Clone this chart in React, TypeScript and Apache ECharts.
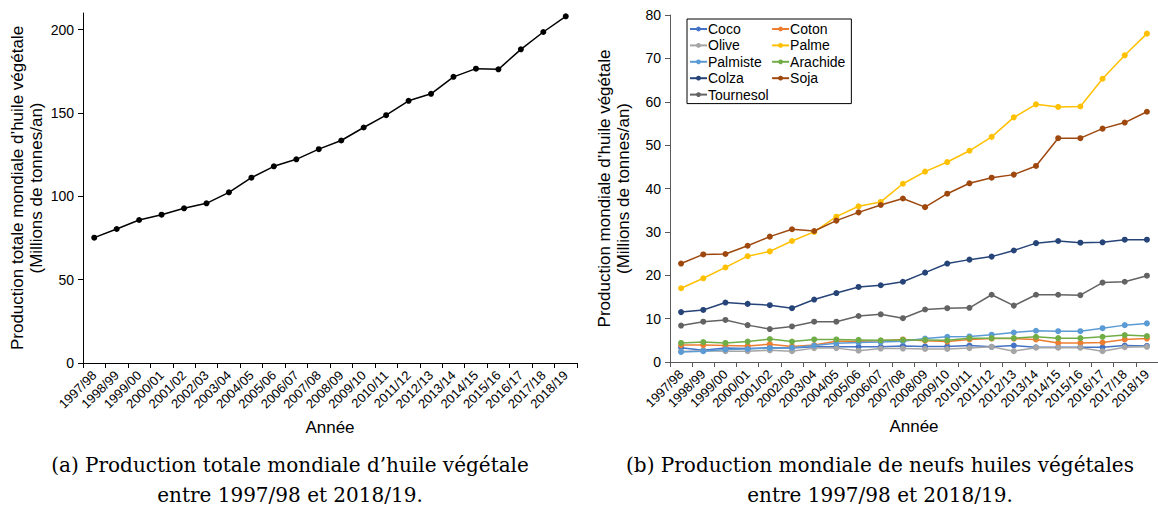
import React, { useEffect, useRef } from "react";
import * as echarts from "echarts";

const years = [
  "1997/98", "1998/99", "1999/00", "2000/01", "2001/02", "2002/03", "2003/04", "2004/05",
  "2005/06", "2006/07", "2007/08", "2008/09", "2009/10", "2010/11", "2011/12", "2012/13",
  "2013/14", "2014/15", "2015/16", "2016/17", "2017/18", "2018/19",
];

const total = [75.2, 80.4, 85.8, 89.0, 92.8, 95.8, 102.4, 111.2, 118.0, 122.2, 128.3, 133.5, 141.3, 148.7, 157.3, 161.5, 171.7, 176.6, 176.2, 188.2, 198.6, 208.0];

const coco = [3.3, 2.7, 3.2, 3.1, 3.3, 3.2, 3.5, 3.5, 3.5, 3.5, 3.7, 3.6, 3.6, 3.8, 3.5, 3.8, 3.4, 3.4, 3.4, 3.4, 3.8, 3.7];
const coton = [3.9, 3.9, 3.8, 3.7, 4.1, 3.6, 3.9, 4.8, 4.8, 4.9, 5.2, 4.9, 4.7, 5.2, 5.4, 5.4, 5.2, 4.4, 4.4, 4.5, 5.2, 5.4];
const olive = [2.4, 2.6, 2.5, 2.5, 2.7, 2.5, 3.2, 3.2, 2.6, 3.1, 3.1, 3.0, 3.0, 3.2, 3.5, 2.5, 3.3, 3.3, 3.3, 2.5, 3.4, 3.5];
const palme = [17.0, 19.3, 21.8, 24.4, 25.5, 27.9, 30.0, 33.5, 35.9, 36.9, 41.1, 43.9, 46.1, 48.7, 51.9, 56.4, 59.4, 58.8, 58.9, 65.3, 70.7, 75.7];
const palmiste = [2.3, 2.5, 2.9, 3.0, 3.2, 3.3, 3.8, 4.3, 4.5, 4.6, 4.8, 5.4, 5.8, 5.9, 6.3, 6.8, 7.2, 7.1, 7.1, 7.8, 8.5, 8.9];
const arachide = [4.4, 4.6, 4.4, 4.7, 5.3, 4.7, 5.2, 5.2, 5.1, 5.0, 5.1, 5.1, 5.0, 5.5, 5.5, 5.5, 5.8, 5.5, 5.5, 5.8, 6.2, 6.0];
const colza = [11.5, 12.0, 13.7, 13.4, 13.1, 12.4, 14.4, 15.9, 17.3, 17.7, 18.5, 20.6, 22.7, 23.6, 24.3, 25.7, 27.4, 27.9, 27.5, 27.6, 28.2, 28.2];
const soja = [22.7, 24.8, 24.9, 26.8, 28.9, 30.6, 30.2, 32.6, 34.5, 36.2, 37.7, 35.7, 38.8, 41.2, 42.5, 43.2, 45.2, 51.6, 51.6, 53.8, 55.2, 57.7];
const tournesol = [8.4, 9.3, 9.7, 8.5, 7.6, 8.2, 9.3, 9.3, 10.6, 11.0, 10.1, 12.1, 12.4, 12.5, 15.5, 13.0, 15.5, 15.5, 15.4, 18.3, 18.5, 19.9];

const oilNames = ["Coco", "Coton", "Olive", "Palme", "Palmiste", "Arachide", "Colza", "Soja", "Tournesol"];
const oilData = [coco, coton, olive, palme, palmiste, arachide, colza, soja, tournesol];
const oilColors = ["#4472C4", "#ED7D31", "#A5A5A5", "#FFC000", "#5B9BD5", "#70AD47", "#264478", "#9E480E", "#636363"];
const legendOrder = ["Coco", "Olive", "Palmiste", "Colza", "Tournesol", "Coton", "Palme", "Arachide", "Soja"];

const leftTicks = [0, 50, 100, 150, 200];

const captionA = ["(a) Production totale mondiale d’huile végétale", "entre 1997/98 et 2018/19."];
const captionB = ["(b) Production mondiale de neufs huiles végétales", "entre 1997/98 et 2018/19."];

const SANS = "'Liberation Sans', Arial, sans-serif";
const SERIF = "'DejaVu Serif', serif";

export default function App() {
  const ref = useRef<HTMLDivElement>(null);

  useEffect(() => {
    if (!ref.current) return;
    const chart = echarts.init(ref.current, null, { renderer: "svg" });

    const xAxisBase = (gridIndex: number) => ({
      type: "category",
      gridIndex,
      data: years,
      boundaryGap: true,
      name: "Année",
      nameLocation: "middle",
      nameGap: 56,
      nameTextStyle: { fontFamily: SANS, fontSize: 17, color: "#000" },
      axisLine: { lineStyle: { color: gridIndex === 0 ? "#000" : "#595959", width: 1 } },
      axisTick: { show: true, length: 5, lineStyle: { color: gridIndex === 0 ? "#000" : "#595959" } },
      axisLabel: {
        interval: 0,
        rotate: 45,
        margin: 10,
        fontFamily: SANS,
        fontSize: 13,
        color: "#000",
      },
      splitLine: { show: false },
    });

    const option: any = {
      animation: false,
      backgroundColor: "#fff",
      grid: [
        { left: 83, top: 13, width: 494, height: 350, containLabel: false },
        { left: 670, top: 15, width: 493, height: 347, containLabel: false },
      ],
      xAxis: [xAxisBase(0), xAxisBase(1)],
      yAxis: [
        {
          type: "value",
          gridIndex: 0,
          min: 0,
          max: 210,
          interval: 50,
          name: "Production totale mondiale d’huile végétale\n(Millions de tonnes/an)",
          nameLocation: "middle",
          nameGap: 37,
          nameRotate: 90,
          nameTextStyle: { fontFamily: SANS, fontSize: 17, color: "#000", lineHeight: 19 },
          axisLine: { show: true, lineStyle: { color: "#000", width: 1 } },
          axisTick: { show: true, length: 5, customValues: leftTicks, lineStyle: { color: "#000" } },
          axisLabel: { customValues: leftTicks, fontFamily: SANS, fontSize: 14, color: "#000", margin: 9 },
          splitLine: { show: false },
        },
        {
          type: "value",
          gridIndex: 1,
          min: 0,
          max: 80,
          interval: 10,
          name: "Production mondiale d’huile végétale\n(Millions de tonnes/an)",
          nameLocation: "middle",
          nameGap: 37,
          nameRotate: 90,
          nameTextStyle: { fontFamily: SANS, fontSize: 17, color: "#000", lineHeight: 19 },
          axisLine: { show: true, lineStyle: { color: "#595959", width: 1 } },
          axisTick: { show: true, length: 5, lineStyle: { color: "#595959" } },
          axisLabel: { fontFamily: SANS, fontSize: 14, color: "#000", margin: 9 },
          splitLine: { show: false },
        },
      ],
      legend: {
        orient: "vertical",
        left: 687,
        top: 19,
        height: 86,
        padding: [3, 6, 2, 2],
        itemGap: 2.4,
        itemWidth: 17,
        itemHeight: 6,
        borderColor: "#000",
        borderWidth: 1,
        data: legendOrder,
        textStyle: { fontFamily: SANS, fontSize: 14, color: "#000", padding: [0, 0, 0, -4] },
      },
      series: [
        {
          type: "line",
          name: "Total",
          xAxisIndex: 0,
          yAxisIndex: 0,
          data: total,
          symbol: "circle",
          symbolSize: 6,
          lineStyle: { color: "#000", width: 1.5 },
          itemStyle: { color: "#000" },
        },
        ...oilNames.map((n, i) => ({
          type: "line",
          name: n,
          xAxisIndex: 1,
          yAxisIndex: 1,
          data: oilData[i],
          symbol: "circle",
          symbolSize: 6,
          lineStyle: { color: oilColors[i], width: 1.5 },
          itemStyle: { color: oilColors[i] },
        })),
      ],
      graphic: [
        { type: "text", x: 290, y: 455, style: { text: captionA[0], font: `20px ${SERIF}`, fill: "#000", textAlign: "center" } },
        { type: "text", x: 290, y: 485, style: { text: captionA[1], font: `20px ${SERIF}`, fill: "#000", textAlign: "center" } },
        { type: "text", x: 880, y: 455, style: { text: captionB[0], font: `20px ${SERIF}`, fill: "#000", textAlign: "center" } },
        { type: "text", x: 880, y: 485, style: { text: captionB[1], font: `20px ${SERIF}`, fill: "#000", textAlign: "center" } },
      ],
    };

    chart.setOption(option);
    return () => chart.dispose();
  }, []);

  return (
    <div
      ref={ref}
      style={{ position: "fixed", left: 0, top: 0, width: 1158, height: 508, background: "#fff" }}
    />
  );
}
